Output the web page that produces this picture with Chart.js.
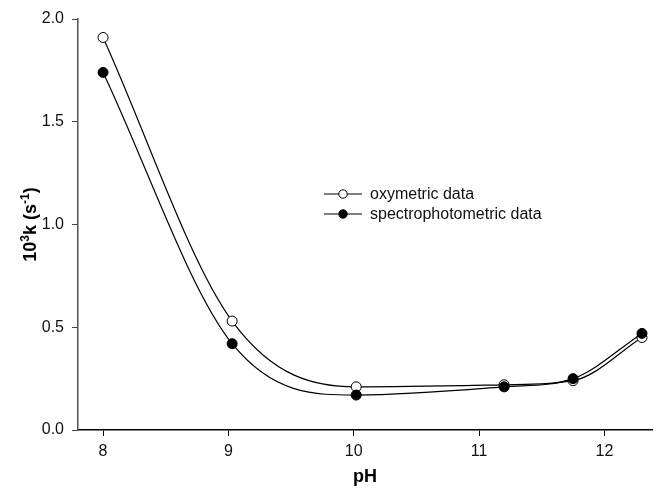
<!DOCTYPE html>
<html>
<head>
<meta charset="utf-8">
<script src="https://cdn.jsdelivr.net/npm/chart.js@4"></script>
<style>
  html, body { margin: 0; padding: 0; background: #fff; }
  #wrap { width: 658px; height: 492px; }
</style>
</head>
<body>
<div id="wrap"><canvas id="chart"></canvas></div>
<script>
const phValues = [8.0, 9.03, 10.02, 11.2, 11.75, 12.3];
const oxymetric = [1.91, 0.53, 0.21, 0.22, 0.24, 0.45];
const spectro = [1.74, 0.42, 0.17, 0.21, 0.25, 0.47];
const seriesNames = ['oxymetric data', 'spectrophotometric data'];
const xTicks = [8, 9, 10, 11, 12];
const yTicks = [0, 0.5, 1.0, 1.5, 2.0];

const FONT = '"Liberation Sans", Arial, sans-serif';

const toPoints = (xs, ys) => xs.map((x, i) => ({ x: x, y: ys[i] }));

// legend inside the plot area, SigmaPlot style
const insideLegend = {
  id: 'insideLegend',
  afterDraw(chart) {
    const ctx = chart.ctx;
    const rows = [194, 214];
    ctx.save();
    chart.data.datasets.forEach((ds, i) => {
      const y = rows[i];
      ctx.strokeStyle = '#000';
      ctx.lineWidth = 1.2;
      ctx.beginPath();
      ctx.moveTo(324, y);
      ctx.lineTo(362, y);
      ctx.stroke();
      ctx.beginPath();
      ctx.arc(343, y, 4.2, 0, Math.PI * 2);
      ctx.fillStyle = ds.pointBackgroundColor;
      ctx.fill();
      ctx.lineWidth = 1;
      ctx.stroke();
      ctx.fillStyle = '#111';
      ctx.font = '16px ' + FONT;
      ctx.textBaseline = 'middle';
      ctx.fillText(ds.label, 370, y + 1);
    });
    ctx.restore();
  }
};

// y title with real superscripts: 10^3 k (s^-1)
const yTitle = {
  id: 'yTitle',
  afterDraw(chart) {
    const ctx = chart.ctx;
    const area = chart.chartArea;
    const parts = [
      { t: '10', sup: false }, { t: '3', sup: true },
      { t: 'k (s', sup: false }, { t: '-1', sup: true },
      { t: ')', sup: false }
    ];
    const big = 'bold 18px ' + FONT, small = 'bold 12px ' + FONT;
    let total = 0;
    parts.forEach(p => { ctx.font = p.sup ? small : big; p.w = ctx.measureText(p.t).width; total += p.w; });
    ctx.save();
    ctx.translate(36, (area.top + area.bottom) / 2);
    ctx.rotate(-Math.PI / 2);
    ctx.fillStyle = '#000';
    ctx.textBaseline = 'alphabetic';
    let x = -total / 2;
    parts.forEach(p => {
      ctx.font = p.sup ? small : big;
      ctx.fillText(p.t, x, p.sup ? -7 : 0);
      x += p.w;
    });
    ctx.restore();
  }
};

new Chart(document.getElementById('chart'), {
  type: 'line',
  data: {
    datasets: [
      {
        label: seriesNames[0],
        data: toPoints(phValues, oxymetric),
        borderColor: '#000',
        borderWidth: 1.2,
        pointRadius: 5,
        pointBorderWidth: 1,
        pointBorderColor: '#000',
        pointBackgroundColor: '#fff',
        cubicInterpolationMode: 'monotone',
        order: 2
      },
      {
        label: seriesNames[1],
        data: toPoints(phValues, spectro),
        borderColor: '#000',
        borderWidth: 1.2,
        pointRadius: 5,
        pointBorderWidth: 1,
        pointBorderColor: '#000',
        pointBackgroundColor: '#000',
        cubicInterpolationMode: 'monotone',
        order: 1
      }
    ]
  },
  options: {
    responsive: true,
    maintainAspectRatio: false,
    animation: false,
    layout: { padding: { left: 0, right: 6, top: 19, bottom: 0 } },
    plugins: {
      legend: { display: false },
      tooltip: { enabled: false }
    },
    scales: {
      x: {
        type: 'linear',
        min: 7.8,
        max: 12.38,
        afterFit: s => { s.height = 62; },
        afterBuildTicks: s => { s.ticks = xTicks.map(v => ({ value: v })); },
        ticks: {
          color: '#111',
          font: { family: FONT, size: 16 },
          padding: 6,
          callback: v => String(v)
        },
        grid: {
          drawOnChartArea: false,
          drawTicks: true,
          tickLength: 6,
          color: '#000'
        },
        border: { color: '#000', width: 1.5 },
        title: {
          display: true,
          text: 'pH',
          color: '#000',
          font: { family: FONT, size: 18, weight: 'bold' }
        }
      },
      y: {
        type: 'linear',
        min: 0,
        max: 2.0,
        afterFit: s => { s.width = 78; },
        afterBuildTicks: s => { s.ticks = yTicks.map(v => ({ value: v })); },
        ticks: {
          color: '#111',
          font: { family: FONT, size: 16 },
          padding: 8,
          callback: v => v.toFixed(1)
        },
        grid: {
          drawOnChartArea: false,
          drawTicks: true,
          tickLength: 6,
          color: '#444'
        },
        border: { color: '#555', width: 1.5 }
      }
    }
  },
  plugins: [insideLegend, yTitle]
});
</script>
</body>
</html>
